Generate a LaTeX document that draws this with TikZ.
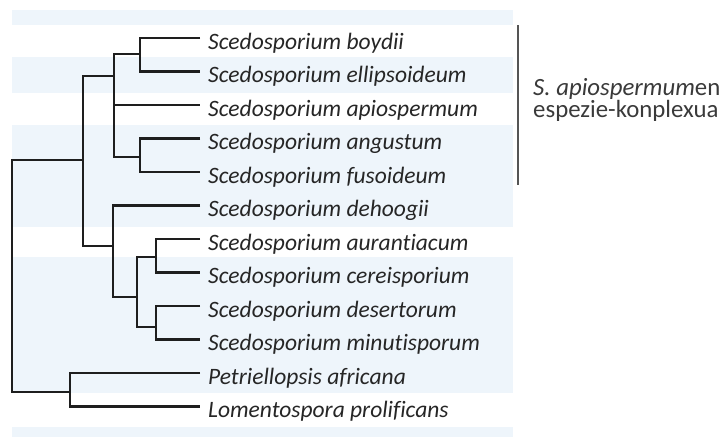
\documentclass[tikz,border=0pt]{standalone}
\usepackage{fontspec}
\setmainfont{Carlito}[Ligatures={NoCommon}]
\definecolor{treecol}{HTML}{1E1E1E}
\definecolor{leafcol}{HTML}{262626}
\definecolor{bandcol}{HTML}{EEF5FB}
\definecolor{brackcol}{HTML}{555555}
\definecolor{labcol}{HTML}{3A3A3A}
\begin{document}
\begin{tikzpicture}[x=1pt,y=-1pt,
  branch/.style={line width=2.2pt, draw=treecol},
  leaf/.style={anchor=west, inner xsep=8pt, inner ysep=0pt, text height=22pt, text depth=0pt,
    font=\fontsize{23.5}{28}\selectfont\itshape, text=leafcol},
  band/.style={fill=bandcol, draw=none},
  bracketline/.style={line width=2pt, draw=brackcol},
  cladelabel/.style={anchor=west, align=left, inner sep=0pt, text=labcol,
    font=\fontsize{24.8}{22.5}\selectfont}]
\useasboundingbox (0,0) rectangle (722,437);
\fill[white] (0,0) rectangle (722,437);
% background bands
\fill[band] (12,10) rectangle (513,25);
\fill[band] (12,57) rectangle (513,93);
\fill[band] (12,125) rectangle (513,227);
\fill[band] (12,257) rectangle (513,393);
\fill[band] (12,427) rectangle (513,437);
% leaves
\node[leaf] (l1) at (200,38) {Scedosporium boydii};
\node[leaf] (l2) at (200,71.5) {Scedosporium ellipsoideum};
\node[leaf] (l3) at (200,105) {Scedosporium apiospermum};
\node[leaf] (l4) at (200,138.5) {Scedosporium angustum};
\node[leaf] (l5) at (200,172) {Scedosporium fusoideum};
\node[leaf] (l6) at (200,205.5) {Scedosporium dehoogii};
\node[leaf] (l7) at (200,239) {Scedosporium aurantiacum};
\node[leaf] (l8) at (200,272.5) {Scedosporium cereisporium};
\node[leaf] (l9) at (200,306) {Scedosporium desertorum};
\node[leaf] (l10) at (200,339.5) {Scedosporium minutisporum};
\node[leaf] (l11) at (200,373) {Petriellopsis africana};
\node[leaf] (l12) at (200,406.5) {Lomentospora prolificans};
% internal nodes
\coordinate (R) at (12,276);
\coordinate (A) at (83,160);
\coordinate (B) at (114,76);
\coordinate (B1) at (140,54);
\coordinate (B2) at (140,157);
\coordinate (C) at (113,246);
\coordinate (C1) at (137,297);
\coordinate (C1a) at (156,257);
\coordinate (C1b) at (156,327);
\coordinate (D) at (70,392);
% branches
\draw[branch] (l1.west) -| (B1) |- (l2.west);
\draw[branch] (B1) -| (B) |- (B2);
\draw[branch] (B |- l3.west) -- (l3.west);
\draw[branch] (l4.west) -| (B2) |- (l5.west);
\draw[branch] (B) -| (A) |- (C);
\draw[branch] (l6.west) -| (C) |- (C1);
\draw[branch] (C1a) -| (C1) |- (C1b);
\draw[branch] (l7.west) -| (C1a) |- (l8.west);
\draw[branch] (l9.west) -| (C1b) |- (l10.west);
\draw[branch] (A) -| (R) |- (D);
\draw[branch] (l11.west) -| (D) |- (l12.west);
% clade bracket and label
\coordinate (bt) at (518,25);
\coordinate (bb) at (518,185);
\draw[bracketline] (bt) -- (bb);
\node[cladelabel] (lab) at (533,100) {\textit{S. apiospermum}en\\espezie-konplexua};
\end{tikzpicture}
\end{document}
